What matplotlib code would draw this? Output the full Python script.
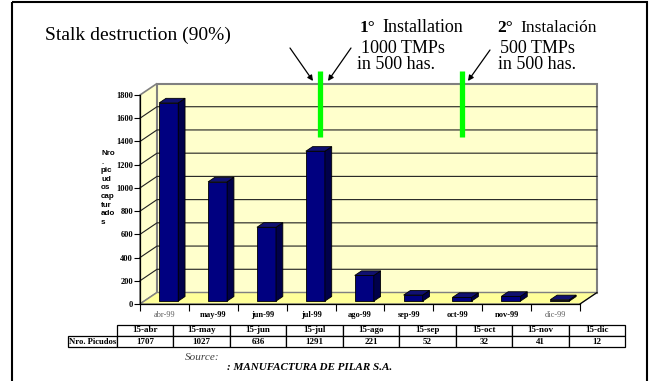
import numpy as np
import matplotlib
matplotlib.use('Agg')
import matplotlib.pyplot as plt
from matplotlib.patches import Polygon, Rectangle

plt.rcParams['font.family'] = ['Liberation Serif', 'DejaVu Sans']

# data
months = ['abr-99', 'may-99', 'jun-99', 'jul-99', 'ago-99',
          'sep-99', 'oct-99', 'nov-99', 'dic-99']
dates = ['15-abr', '15-may', '15-jun', '15-jul', '15-ago',
         '15-sep', '15-oct', '15-nov', '15-dic']
picudos = [1707, 1027, 636, 1291, 221, 52, 32, 41, 12]
yticks = list(range(0, 1801, 200))
install_x = [3.19, 6.08]   # the two trap installations, in month units

W, H = 653, 381
fig = plt.figure(figsize=(W / 100, H / 100), dpi=100)

# overlay in pixels (y down) for frame, notes and table
ov = fig.add_axes([0, 0, 1, 1])
ov.set_xlim(0, W)
ov.set_ylim(H, 0)
ov.axis('off')

ax = fig.add_axes([140 / W, 1 - 304 / H, 440 / W, 209 / H])
ax.set_xlim(-0.5, 8.5)
ax.set_ylim(0, 1800)
ax.patch.set_visible(False)

n = len(months)
x = np.arange(n)
DX, DY = 0.348, 99   # depth of the fake 3d box
wall, floor, grey = '#FFFFCC', '#FFFF99', '#808080'

# walls and floor
ax.add_patch(Polygon([(-0.5, 0), (-0.5 + DX, DY), (-0.5 + DX, 1800 + DY), (-0.5, 1800)],
                     closed=True, fc=wall, ec=grey, lw=1.2, clip_on=False, zorder=0))
ax.add_patch(Rectangle((-0.5 + DX, DY), n, 1800, fc=wall, ec=grey, lw=1.5,
                       clip_on=False, zorder=0))
ax.add_patch(Polygon([(-0.5, 0), (8.5, 0), (8.5 + DX, DY), (-0.5 + DX, DY)],
                     closed=True, fc=floor, ec=grey, lw=1, clip_on=False, zorder=0.5))
ax.plot([8.5, 8.5 + DX], [0, DY], color='black', lw=0.8, clip_on=False, zorder=0.6)
for v in yticks[1:-1]:
    ax.plot([-0.5, -0.5 + DX, 8.5 + DX], [v, v + DY, v + DY], color='#202020',
            lw=0.8, clip_on=False, zorder=1)

# bars (front face + side + top)
d0, dd, bw = 0.25, 0.4, 0.39
xb = x + d0 * DX
ax.bar(xb, picudos, width=bw, bottom=d0 * DY, color='#000080', edgecolor='black',
       lw=0.6, zorder=3)
for xi, v in zip(xb, picudos):
    top = v + d0 * DY
    l, r = xi - bw / 2, xi + bw / 2
    side = [(r, d0 * DY), (r + dd * DX, (d0 + dd) * DY), (r + dd * DX, top + dd * DY), (r, top)]
    cap = [(l, top), (r, top), (r + dd * DX, top + dd * DY), (l + dd * DX, top + dd * DY)]
    ax.add_patch(Polygon(side, closed=True, fc='#00004A', ec='black', lw=0.6, zorder=3, clip_on=False))
    ax.add_patch(Polygon(cap, closed=True, fc='#101070', ec='black', lw=0.6, zorder=3, clip_on=False))

# installation markers
for gx in install_x:
    ax.plot([gx, gx], [1440, 2005], color='#00FF00', lw=3.8, clip_on=False,
            zorder=4, solid_capstyle='butt')

# axes
for s in ['top', 'right']:
    ax.spines[s].set_visible(False)
for s in ['left', 'bottom']:
    ax.spines[s].set_linewidth(0.9)
    ax.spines[s].set_zorder(5)
ax.set_yticks(yticks)
ax.set_yticklabels([str(v) for v in yticks], fontsize=6, fontweight='bold')
ax.tick_params(axis='y', direction='out', length=4, width=0.8, pad=1)
ax.set_xticks(x)
ax.set_xticklabels(months, fontsize=6, fontweight='bold')
ax.set_xticks(np.arange(-0.5, n, 1), minor=True)
ax.tick_params(axis='x', which='major', length=0, pad=5)
ax.tick_params(axis='x', which='minor', length=5, width=0.8)
for lab in [ax.get_xticklabels()[0], ax.get_xticklabels()[-1]]:
    lab.set_fontweight('normal')
    lab.set_color('#606060')

ov.text(101, 150, 'Nro\n.\npic\nud\nos\ncap\ntur\nado\ns', family='Liberation Sans',
        fontweight='bold', fontsize=5.8, va='top', ha='left', linespacing=1.32)

# title and notes
ov.text(45, 35, 'Stalk destruction (90%)', fontsize=14, va='center')
ov.text(360, 32, '1°', fontsize=12.5, fontweight='bold')
ov.text(382, 32, 'Installation', fontsize=13)
ov.text(361, 53, '1000 TMPs', fontsize=13)
ov.text(357, 69, 'in 500 has.', fontsize=13)
ov.text(497, 32, '2°', fontsize=12.5, fontweight='bold')
ov.text(520, 32, 'Instalación', fontsize=12.5)
ov.text(500, 53, '500 TMPs', fontsize=13)
ov.text(498, 69, 'in 500 has.', fontsize=13)
arrows = [((290, 48), (313, 81)), ((351, 48), (328, 81)), ((490, 50), (468, 81))]
for (x0, y0), (x1, y1) in arrows:
    ov.annotate('', xy=(x1, y1), xytext=(x0, y0),
                arrowprops=dict(arrowstyle='-|>', color='black', lw=0.9,
                                mutation_scale=8, shrinkA=0, shrinkB=0))

# data table under the chart
cells = [[''] + dates, ['Nro. Picudos'] + [str(v) for v in picudos]]
tb = ov.table(cellText=cells, cellLoc='center',
              colWidths=[49 / 557] + [56.4 / 557] * n,
              bbox=[68 / W, 1 - 347 / H, 557 / W, 22 / H])
tb.auto_set_font_size(False)
tb.set_fontsize(6.5)
for (r, c), cell in tb.get_celld().items():
    cell.set_linewidth(0.9)
    cell.get_text().set_fontweight('bold')
    cell.PAD = 0.02
tb[0, 0].visible_edges = ''
tb[1, 0].get_text().set_fontsize(6.2)

ov.text(185, 358, 'Source:', style='italic', fontsize=8, color='#404040', va='center')
ov.text(227, 368, ': MANUFACTURA DE PILAR S.A.', style='italic', fontweight='bold',
        fontsize=8, va='center')

ov.add_patch(Rectangle((12, 2), 635, 385, fill=False, ec='black', lw=1.5, clip_on=False))

fig.savefig('out.png', dpi=100)
